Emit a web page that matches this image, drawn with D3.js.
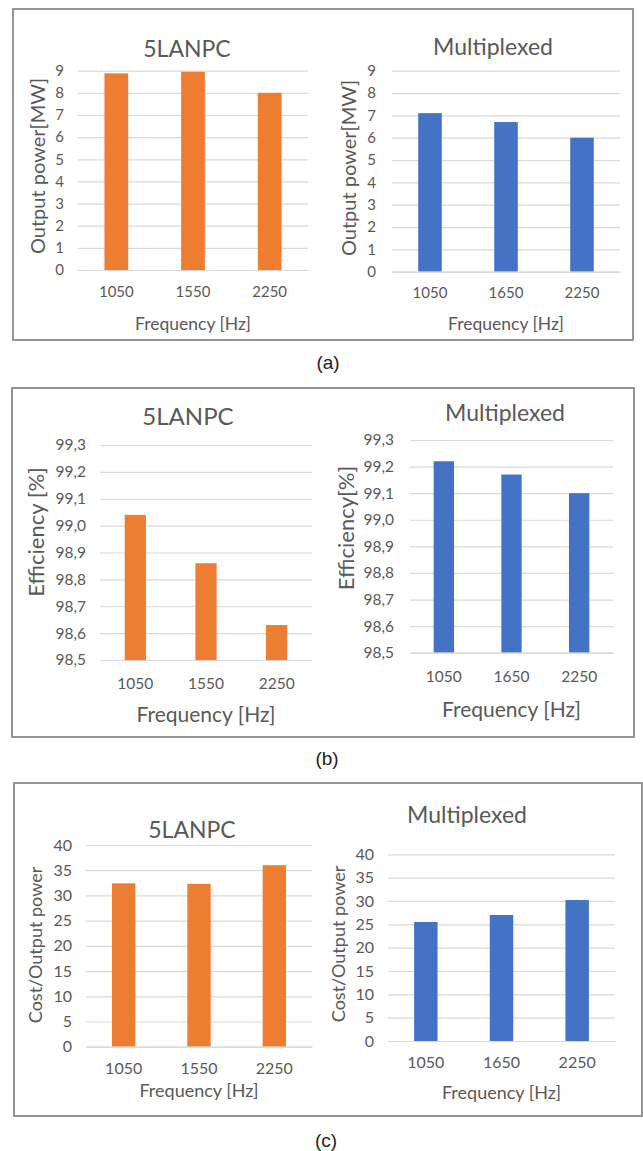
<!DOCTYPE html>
<html>
<head>
<meta charset="utf-8">
<script src="https://cdn.jsdelivr.net/npm/d3@7"></script>
<style>
  body { margin: 0; background: #fff; }
  text { font-family: Lato, "Open Sans", sans-serif; fill: #595959; }
  .panel-label { font-family: "Liberation Sans", Arial, sans-serif; fill: #222; }
</style>
</head>
<body>
<svg id="fig" width="643" height="1151"></svg>
<script>
// categories
var freq5LANPC = ["1050", "1550", "2250"];
var freqMux = ["1050", "1650", "2250"];

// series values
var power5LANPC = [8.88, 8.95, 8.0];
var powerMux = [7.1, 6.7, 6.0];
var eff5LANPC = [99.04, 98.86, 98.63];
var effMux = [99.22, 99.17, 99.10];
var cost5LANPC = [32.4, 32.3, 36.0];
var costMux = [25.5, 27.0, 30.2];

// tick labels
var powerTicks = [0, 1, 2, 3, 4, 5, 6, 7, 8, 9];
var effTicks = [98.5, 98.6, 98.7, 98.8, 98.9, 99.0, 99.1, 99.2, 99.3];
var costTicks = [0, 5, 10, 15, 20, 25, 30, 35, 40];

var orange = "#ED7D31", blue = "#4472C4";
var svg = d3.select("#fig");

// outer frames + panel labels
var frames = [
	{x: 13, y: 9, w: 620, h: 331, label: "(a)", lx: 328, ly: 362},
	{x: 12, y: 388, w: 622, h: 349, label: "(b)", lx: 327, ly: 758},
	{x: 14, y: 783, w: 628, h: 333, label: "(c)", lx: 326, ly: 1140}
];
frames.forEach(function(f) {
	svg.append("rect")
		.attr("x", f.x).attr("y", f.y)
		.attr("width", f.w).attr("height", f.h)
		.attr("fill", "none")
		.attr("stroke", "#8a8a8a")
		.attr("stroke-width", 1.8);
	svg.append("text")
		.attr("class", "panel-label")
		.attr("x", f.lx).attr("y", f.ly)
		.attr("text-anchor", "middle")
		.attr("dominant-baseline", "central")
		.style("font-size", "19px")
		.text(f.label);
});

function drawChart(c) {
	var width = c.x1 - c.x0, height = c.y1 - c.y0;
	var g = svg.append("g").attr("transform", "translate(" + c.x0 + "," + c.y0 + ")");

	var x = d3.scaleBand().domain(c.cats).range([0, width]).paddingInner(c.pad).paddingOuter(c.pad / 2);
	var y = d3.scaleLinear().domain(c.domain).range([height, 0]);

	// gridlines + y tick labels
	var yAxis = g.append("g")
		.call(d3.axisLeft(y)
			.tickValues(c.ticks)
			.tickSizeInner(-width)
			.tickSizeOuter(0)
			.tickPadding(c.tickPad)
			.tickFormat(c.fmt));
	yAxis.select(".domain").remove();
	yAxis.selectAll("line").attr("stroke", "#d9d9d9").attr("stroke-width", 1.2);
	yAxis.selectAll("text").style("font-size", c.tickSize + "px").attr("fill", "#595959");

	// bars
	g.selectAll(".bar")
		.data(c.values)
		.enter().append("rect")
		.attr("class", "bar")
		.attr("fill", c.color)
		.attr("x", function(d, i) { return x(c.cats[i]); })
		.attr("width", x.bandwidth())
		.attr("y", function(d) { return y(d); })
		.attr("height", function(d) { return height - y(d); });

	// x axis
	var xAxis = g.append("g")
		.attr("transform", "translate(0," + height + ")")
		.call(d3.axisBottom(x).tickSize(0).tickPadding(c.xPad));
	xAxis.select(".domain").attr("stroke", "#d9d9d9").attr("stroke-width", 1.2);
	xAxis.selectAll("text").style("font-size", c.tickSize + "px").attr("fill", "#595959");

	// titles
	svg.append("text")
		.attr("x", c.titleX).attr("y", c.titleY)
		.attr("text-anchor", "middle")
		.attr("dominant-baseline", "central")
		.style("font-size", c.titleSize + "px")
		.text(c.title);

	svg.append("text")
		.attr("transform", "translate(" + c.ytX + "," + c.ytY + ") rotate(-90)")
		.attr("text-anchor", "middle")
		.attr("dominant-baseline", "central")
		.style("font-size", c.ytSize + "px")
		.text(c.ytitle);

	svg.append("text")
		.attr("x", c.x0 + width / 2).attr("y", c.xtY)
		.attr("text-anchor", "middle")
		.attr("dominant-baseline", "central")
		.style("font-size", c.xtSize + "px")
		.text("Frequency [Hz]");
}

var intFmt = d3.format("d");
var effFmt = function(d) { return d3.format(".1f")(d).replace(".", ","); };

// (a)
drawChart({x0: 78, x1: 308, y0: 70.7, y1: 270, cats: freq5LANPC, values: power5LANPC, color: orange,
	domain: [0, 9], ticks: powerTicks, fmt: intFmt, pad: 0.69, tickPad: 14, xPad: 16, tickSize: 15,
	title: "5LANPC", titleX: 187, titleY: 48, titleSize: 23,
	ytitle: "Output power[MW]", ytX: 37, ytY: 166, ytSize: 20, xtY: 323, xtSize: 17.5});
drawChart({x0: 392, x1: 620, y0: 70.7, y1: 271.7, cats: freqMux, values: powerMux, color: blue,
	domain: [0, 9], ticks: powerTicks, fmt: intFmt, pad: 0.69, tickPad: 16, xPad: 16, tickSize: 15,
	title: "Multiplexed", titleX: 493, titleY: 46, titleSize: 23,
	ytitle: "Output power[MW]", ytX: 348, ytY: 168, ytSize: 20, xtY: 323, xtSize: 17.5});

// (b)
drawChart({x0: 100, x1: 312, y0: 445, y1: 660, cats: freq5LANPC, values: eff5LANPC, color: orange,
	domain: [98.5, 99.3], ticks: effTicks, fmt: effFmt, pad: 0.7, tickPad: 14, xPad: 18, tickSize: 15.5,
	title: "5LANPC", titleX: 188, titleY: 415, titleSize: 24,
	ytitle: "Efficiency [%]", ytX: 35, ytY: 532, ytSize: 22, xtY: 713, xtSize: 21});
drawChart({x0: 410, x1: 613, y0: 440, y1: 652.7, cats: freqMux, values: effMux, color: blue,
	domain: [98.5, 99.3], ticks: effTicks, fmt: effFmt, pad: 0.7, tickPad: 16, xPad: 18, tickSize: 15.5,
	title: "Multiplexed", titleX: 505, titleY: 412, titleSize: 23,
	ytitle: "Efficiency[%]", ytX: 345, ytY: 528, ytSize: 22, xtY: 708, xtSize: 21});

// (c)
drawChart({x0: 86, x1: 312, y0: 845, y1: 1046.7, cats: freq5LANPC, values: cost5LANPC, color: orange,
	domain: [0, 40], ticks: costTicks, fmt: intFmt, pad: 0.69, tickPad: 14, xPad: 16, tickSize: 16,
	title: "5LANPC", titleX: 192, titleY: 829, titleSize: 23,
	ytitle: "Cost/Output power", ytX: 35, ytY: 945, ytSize: 18, xtY: 1090, xtSize: 18});
drawChart({x0: 388, x1: 615, y0: 854.3, y1: 1041, cats: freqMux, values: costMux, color: blue,
	domain: [0, 40], ticks: costTicks, fmt: intFmt, pad: 0.69, tickPad: 14, xPad: 16, tickSize: 16,
	title: "Multiplexed", titleX: 467, titleY: 814, titleSize: 23,
	ytitle: "Cost/Output power", ytX: 338, ytY: 944, ytSize: 18, xtY: 1092, xtSize: 18});
</script>
</body>
</html>
